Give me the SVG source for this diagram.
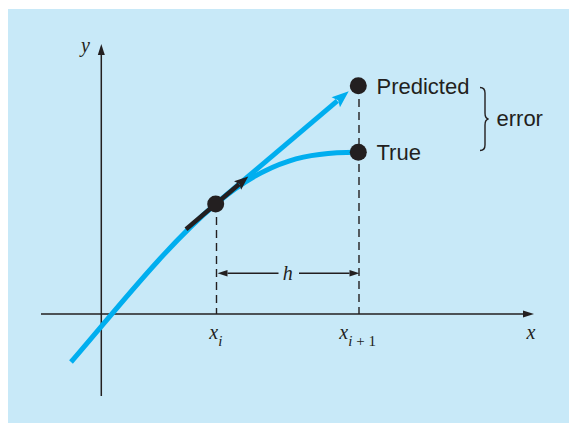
<svg xmlns="http://www.w3.org/2000/svg" width="569" height="423" viewBox="0 0 569 423">
  <style>
    .axis { stroke: #231f20; stroke-width: 1.5; fill: none; }
    .dash { stroke: #231f20; stroke-width: 1.4; stroke-dasharray: 8 5; fill: none; }
    .dim { stroke: #231f20; stroke-width: 1.4; fill: none; }
    .curve { stroke: #00aeef; stroke-width: 5; fill: none; }
    .slope { stroke: #231f20; stroke-width: 4.5; fill: none; }
    .dot { fill: #231f20; }
    .lbl { font-family: "Liberation Sans", Arial, sans-serif; font-size: 22px; fill: #231f20; }
    .math { font-family: "Liberation Serif", "Times New Roman", serif; font-style: italic; font-size: 20px; fill: #231f20; }
    .sub { font-size: 15px; }
    .up { font-style: normal; }
  </style>
  <defs>
    <marker id="axisHead" markerUnits="userSpaceOnUse" markerWidth="12" markerHeight="8" refX="0" refY="4" orient="auto" overflow="visible">
      <path d="M0,0.5 L11,4 L0,7.5 Z" fill="#231f20"/>
    </marker>
    <marker id="dimHead" markerUnits="userSpaceOnUse" markerWidth="11" markerHeight="7" refX="0" refY="3.5" orient="auto" overflow="visible">
      <path d="M0,0.3 L10,3.5 L0,6.7 Z" fill="#231f20"/>
    </marker>
    <marker id="blueHead" markerUnits="userSpaceOnUse" markerWidth="17" markerHeight="14" refX="2" refY="7" orient="auto" overflow="visible">
      <path d="M0,0.5 L17,7 L0,13.5 L3,7 Z" fill="#00aeef"/>
    </marker>
    <marker id="blackHead" markerUnits="userSpaceOnUse" markerWidth="14" markerHeight="12" refX="2" refY="6" orient="auto" overflow="visible">
      <path d="M0,0.5 L14,6 L0,11.5 L2.5,6 Z" fill="#231f20"/>
    </marker>
  </defs>

  <rect x="8" y="9" width="561" height="414" fill="#c8e9f8"/>

  <g id="axes">
    <line class="axis" x1="41" y1="314" x2="523" y2="314" marker-end="url(#axisHead)"/>
    <line class="axis" x1="101.3" y1="396" x2="101.3" y2="55" marker-end="url(#axisHead)"/>
    <text class="math" x="81" y="51.5">y</text>
    <text class="math" x="526.5" y="338.5">x</text>
  </g>

  <g id="connectors">
    <line class="dash" x1="216.5" y1="204" x2="216.5" y2="314"/>
    <line class="dash" x1="359" y1="86" x2="359" y2="314"/>
    <line class="dim" x1="278.5" y1="273.3" x2="227.5" y2="273.3" marker-end="url(#dimHead)"/>
    <line class="dim" x1="299" y1="273.3" x2="349.5" y2="273.3" marker-end="url(#dimHead)"/>
    <path class="curve" d="M71,362 C116,310 165.7,246.4 215.7,204 C269.1,158.7 310,152 358.3,152.3"/>
    <line class="curve" x1="215.7" y1="204" x2="337.3" y2="100.9" marker-end="url(#blueHead)"/>
    <line class="slope" x1="186" y1="229.2" x2="239.1" y2="184.2" marker-end="url(#blackHead)"/>
  </g>

  <g id="h-label">
    <text class="math" x="282.7" y="280">h</text>
  </g>

  <g id="node-xi">
    <circle class="dot" cx="215.7" cy="204" r="8.5"/>
    <text class="math" x="209.3" y="339.3">x<tspan class="sub" x="218.3" y="346">i</tspan></text>
  </g>

  <g id="node-predicted">
    <circle class="dot" cx="358.3" cy="85.7" r="8.5"/>
    <text class="lbl" x="376.5" y="94">Predicted</text>
  </g>

  <g id="node-true">
    <circle class="dot" cx="358.3" cy="152.3" r="8.5"/>
    <text class="lbl" x="376.5" y="160">True</text>
  </g>

  <g id="node-xi1">
    <text class="math" x="339.3" y="339.3">x<tspan class="sub" x="348.3" y="346">i</tspan><tspan class="sub up"> + 1</tspan></text>
  </g>

  <g id="error-brace">
    <path class="dim" d="M480,87.5 Q485,87.5 485,93 L485,113 Q485,118.5 488.5,119 Q485,119.5 485,125 L485,145 Q485,150.5 480,150.5"/>
    <text class="lbl" x="496.5" y="125.7">error</text>
  </g>
</svg>
